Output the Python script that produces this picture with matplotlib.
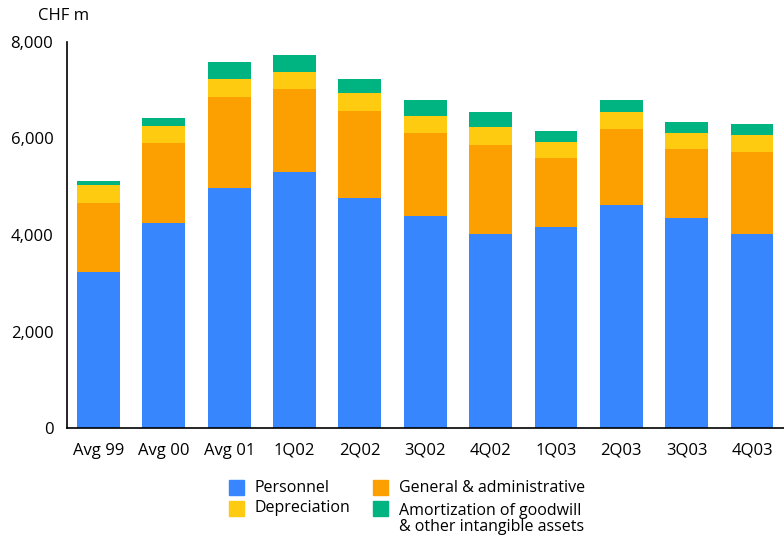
import matplotlib
matplotlib.use("Agg")
import matplotlib.pyplot as plt
from matplotlib.patches import Rectangle
import numpy as np

plt.rcParams['font.family'] = ['Open Sans', 'DejaVu Sans']

periods = ["Avg 99", "Avg 00", "Avg 01", "1Q02", "2Q02", "3Q02", "4Q02",
           "1Q03", "2Q03", "3Q03", "4Q03"]
personnel = [3227, 4244, 4970, 5302, 4762, 4389, 4015, 4161, 4617, 4347, 4015]
general_admin = [1432, 1659, 1888, 1722, 1806, 1722, 1847, 1431, 1577, 1432, 1702]
depreciation = [373, 354, 374, 353, 373, 353, 374, 332, 353, 332, 353]
amortization = [83, 166, 353, 353, 291, 332, 311, 229, 249, 228, 228]

series = [
    ("Personnel", personnel, "#3786FE"),
    ("General & administrative", general_admin, "#FBA000"),
    ("Depreciation", depreciation, "#FFCB10"),
    ("Amortization of goodwill\n& other intangible assets", amortization, "#00B482"),
]

W, H = 784, 536
fig = plt.figure(figsize=(W / 100, H / 100), dpi=100)
ax = fig.add_axes([66.5 / W, 1 - 428 / H, (W - 66.5) / W, (428 - 42) / H])

x = np.arange(len(periods))
bottom = np.zeros(len(periods))
for name, vals, color in series:
    ax.bar(x, vals, width=0.656, bottom=bottom, color=color, linewidth=0)
    bottom += np.array(vals)

ax.set_xlim(-0.49, 10.49)
ax.set_ylim(0, 8000)
ax.set_yticks([0, 2000, 4000, 6000, 8000])
ax.set_yticklabels(["0", "2,000", "4,000", "6,000", "8,000"])
ax.set_xticks(x)
ax.set_xticklabels(periods)
ax.tick_params(axis="both", length=0, labelsize=12, colors="black")
ax.tick_params(axis="y", pad=9.5)
ax.tick_params(axis="x", pad=10.5)
for s in ["top", "right"]:
    ax.spines[s].set_visible(False)
for s in ["left", "bottom"]:
    ax.spines[s].set_linewidth(1.2)
    ax.spines[s].set_color("black")

fig.text(38 / W, 1 - 16 / H, "CHF m", fontsize=12, ha="left", va="center")

# Legend built from patches and text in figure pixel coordinates
def legend_item(px, py, color, label):
    fig.patches.append(Rectangle((px / W, 1 - (py + 15) / H), 15 / W, 15 / H,
                                 transform=fig.transFigure, color=color))
    fig.text((px + 26) / W, 1 - (py + 7.5) / H, label, fontsize=11.5,
             ha="left", va="center")

legend_item(229, 480, series[0][2], series[0][0])
legend_item(373, 480, series[1][2], series[1][0])
legend_item(229, 501, series[2][2], series[2][0])
# two-line label
fig.patches.append(Rectangle((373 / W, 1 - 516 / H), 15 / W, 15 / H,
                             transform=fig.transFigure, color=series[3][2]))
fig.text(399 / W, 1 - 503 / H, series[3][0], fontsize=11.5, ha="left", va="top",
         linespacing=1.0)

fig.savefig("out.png", dpi=100)
